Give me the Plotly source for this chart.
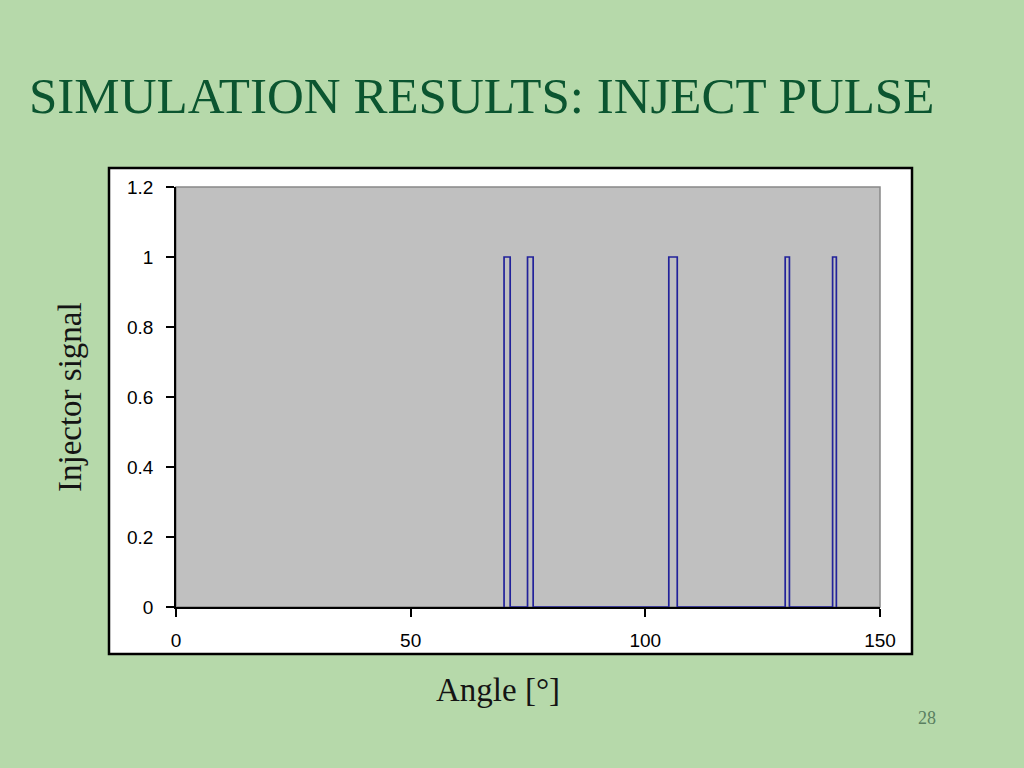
import plotly.graph_objects as go

# Pulse data (angle in degrees)
pulse_starts = [69.9, 74.9, 105.0, 129.8, 139.9]
pulse_ends = [71.2, 76.1, 106.8, 130.7, 140.7]
pulse_level = [1, 1, 1, 1, 1]

x_ticks = [0, 50, 100, 150]
y_ticks = [0, 0.2, 0.4, 0.6, 0.8, 1, 1.2]
y_tick_labels = ["0", "0.2", "0.4", "0.6", "0.8", "1", "1.2"]

xs, ys = [], []
for s, e, lv in zip(pulse_starts, pulse_ends, pulse_level):
    xs += [s, s, e, e]
    ys += [0, lv, lv, 0]

fig = go.Figure()
fig.add_trace(go.Scatter(x=xs, y=ys, mode="lines",
                         line=dict(color="#22229a", width=1.7),
                         showlegend=False, hoverinfo="skip"))

W, H = 1024, 768
L, R, T, B = 176, 880, 187, 607
def px(x):
    return (x - L) / (R - L)
def py(y):
    return (B - y) / (B - T)

shapes = [
    # white chart box
    dict(type="rect", xref="paper", yref="paper",
         x0=px(109), x1=px(912), y0=py(654), y1=py(168),
         fillcolor="white", line=dict(color="black", width=2.5), layer="below"),
    # grey plot area with border
    dict(type="rect", xref="paper", yref="paper", x0=0, x1=1, y0=0, y1=1,
         line=dict(color="#888888", width=1.5), fillcolor="#c0c0c0", layer="below"),
]

tick_font = dict(family="Liberation Sans, Arial", size=19, color="black")

fig.update_layout(
    width=W, height=H,
    margin=dict(l=L, r=W - R, t=T, b=H - B, pad=0),
    paper_bgcolor="#b6d9aa",
    plot_bgcolor="#c0c0c0",
    shapes=shapes,
    xaxis=dict(range=[0, 150], tickvals=x_ticks, showgrid=False, zeroline=False,
               showline=True, linecolor="black", linewidth=1.5,
               ticks="outside", ticklen=8, tickcolor="black", tickwidth=1.5,
               ticklabelstandoff=7, tickfont=tick_font),
    yaxis=dict(range=[0, 1.2], tickvals=y_ticks, ticktext=y_tick_labels,
               showgrid=False, zeroline=False,
               showline=True, linecolor="black", linewidth=1.5,
               ticks="outside", ticklen=8, tickcolor="black", tickwidth=1.5,
               ticklabelstandoff=9, tickfont=tick_font),
    annotations=[
        dict(text="SIMULATION RESULTS: INJECT PULSE", xref="paper", yref="paper",
             x=px(27), y=py(96), xanchor="left", yanchor="middle", showarrow=False,
             font=dict(family="Liberation Serif, Times New Roman", size=51, color="#0b5530")),
        dict(text="Injector signal", xref="paper", yref="paper",
             x=px(70), y=py(397), xanchor="center", yanchor="middle", showarrow=False,
             textangle=-90,
             font=dict(family="Liberation Serif, Times New Roman", size=33, color="#141414")),
        dict(text="Angle [°]", xref="paper", yref="paper",
             x=px(498), y=py(690), xanchor="center", yanchor="middle", showarrow=False,
             font=dict(family="Liberation Serif, Times New Roman", size=33, color="#141414")),
        dict(text="28", xref="paper", yref="paper",
             x=px(927), y=py(718), xanchor="center", yanchor="middle", showarrow=False,
             font=dict(family="Liberation Serif, Times New Roman", size=18, color="#5a7f60")),
    ],
)

fig.write_html("out.html", config={"displayModeBar": False},
               post_script="document.body.style.margin='0';document.body.style.overflow='hidden';")
